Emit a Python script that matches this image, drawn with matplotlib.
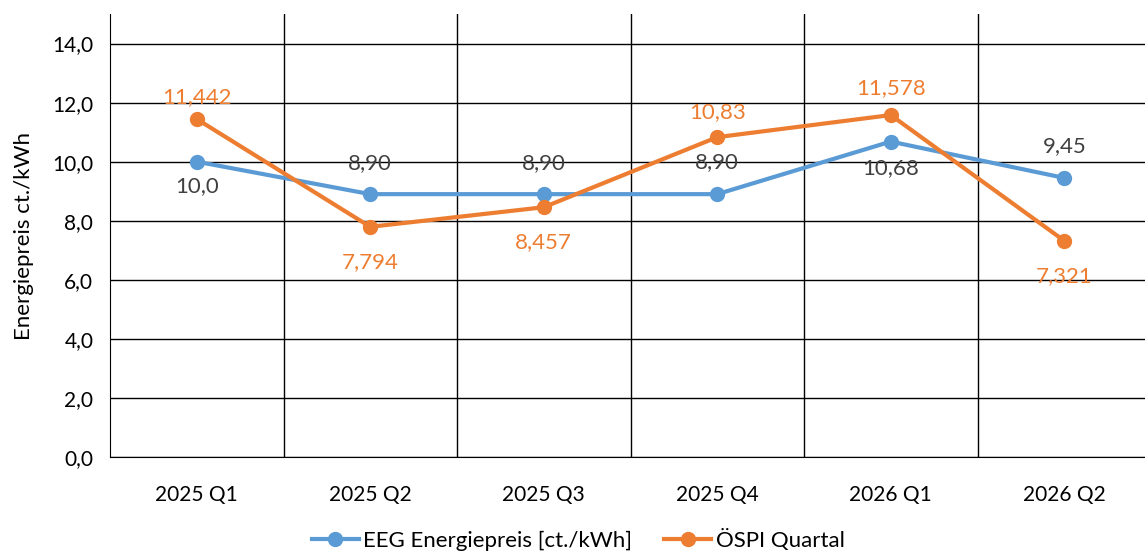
import matplotlib
matplotlib.use("Agg")
import matplotlib.pyplot as plt
from matplotlib.ticker import FixedLocator, FuncFormatter

categories = ["2025 Q1", "2025 Q2", "2025 Q3", "2025 Q4", "2026 Q1", "2026 Q2"]
eeg = [10.0, 8.90, 8.90, 8.90, 10.68, 9.45]
eeg_labels = ["10,0", "8,90", "8,90", "8,90", "10,68", "9,45"]
ospi = [11.442, 7.794, 8.457, 10.83, 11.578, 7.321]
ospi_labels = ["11,442", "7,794", "8,457", "10,83", "11,578", "7,321"]
yticks = [0, 2, 4, 6, 8, 10, 12, 14]

# label offsets in pixels (style: positive = above, negative = below)
eeg_offsets = [-24, 31, 31, 32, -27, 32]
ospi_offsets = [22, -35, -35, 25, 27, -35]

plt.rcParams['font.family'] = ['Lato', 'DejaVu Sans']

BLUE = "#5B9BD5"
ORANGE = "#ED7D31"
GRAY = "#404040"

fig = plt.figure(figsize=(11.45, 5.52), dpi=100)
ax = fig.add_axes([110/1145, 95/552, 1041/1145, 443/552])

x = list(range(len(categories)))
ax.plot(x, eeg, color=BLUE, lw=3, marker="o", ms=10, label="EEG Energiepreis [ct./kWh]", zorder=3)
ax.plot(x, ospi, color=ORANGE, lw=3, marker="o", ms=10, label="ÖSPI Quartal", zorder=4)

for xi, v, t, dy in zip(x, eeg, eeg_labels, eeg_offsets):
    ax.annotate(t, (xi, v), xytext=(0, dy), textcoords="offset pixels",
                ha="center", va="center", color=GRAY, fontsize=16, zorder=5)
for xi, v, t, dy in zip(x, ospi, ospi_labels, ospi_offsets):
    ax.annotate(t, (xi, v), xytext=(0, dy), textcoords="offset pixels",
                ha="center", va="center", color=ORANGE, fontsize=16, zorder=5)

ax.set_xlim(-0.5, len(categories) - 0.5)
ax.set_ylim(0, 15)
ax.yaxis.set_major_locator(FixedLocator(yticks))
ax.yaxis.set_major_formatter(FuncFormatter(lambda v, p: f"{v:.1f}".replace(".", ",")))
ax.set_xticks(x)
ax.set_xticklabels(categories)
ax.set_xticks([i + 0.5 for i in x[:-1]], minor=True)

ax.grid(axis="y", which="major", color="black", lw=1)
ax.grid(axis="x", which="minor", color="black", lw=1)
ax.set_axisbelow(True)

for s in ["top", "right"]:
    ax.spines[s].set_visible(False)
ax.spines["left"].set_color("black")
ax.spines["bottom"].set_color("black")
ax.tick_params(axis="both", which="both", length=0, labelsize=15, colors="black")
ax.tick_params(axis="x", pad=20)
ax.tick_params(axis="y", pad=12)

ax.set_ylabel("Energiepreis ct./kWh", fontsize=16, labelpad=13)

fig.legend(loc="center", bbox_to_anchor=(0.505, 0.022), ncol=2, frameon=False,
           fontsize=16, handlelength=2.1, columnspacing=1.45, handletextpad=0.2)

fig.savefig("out.png", dpi=100)
